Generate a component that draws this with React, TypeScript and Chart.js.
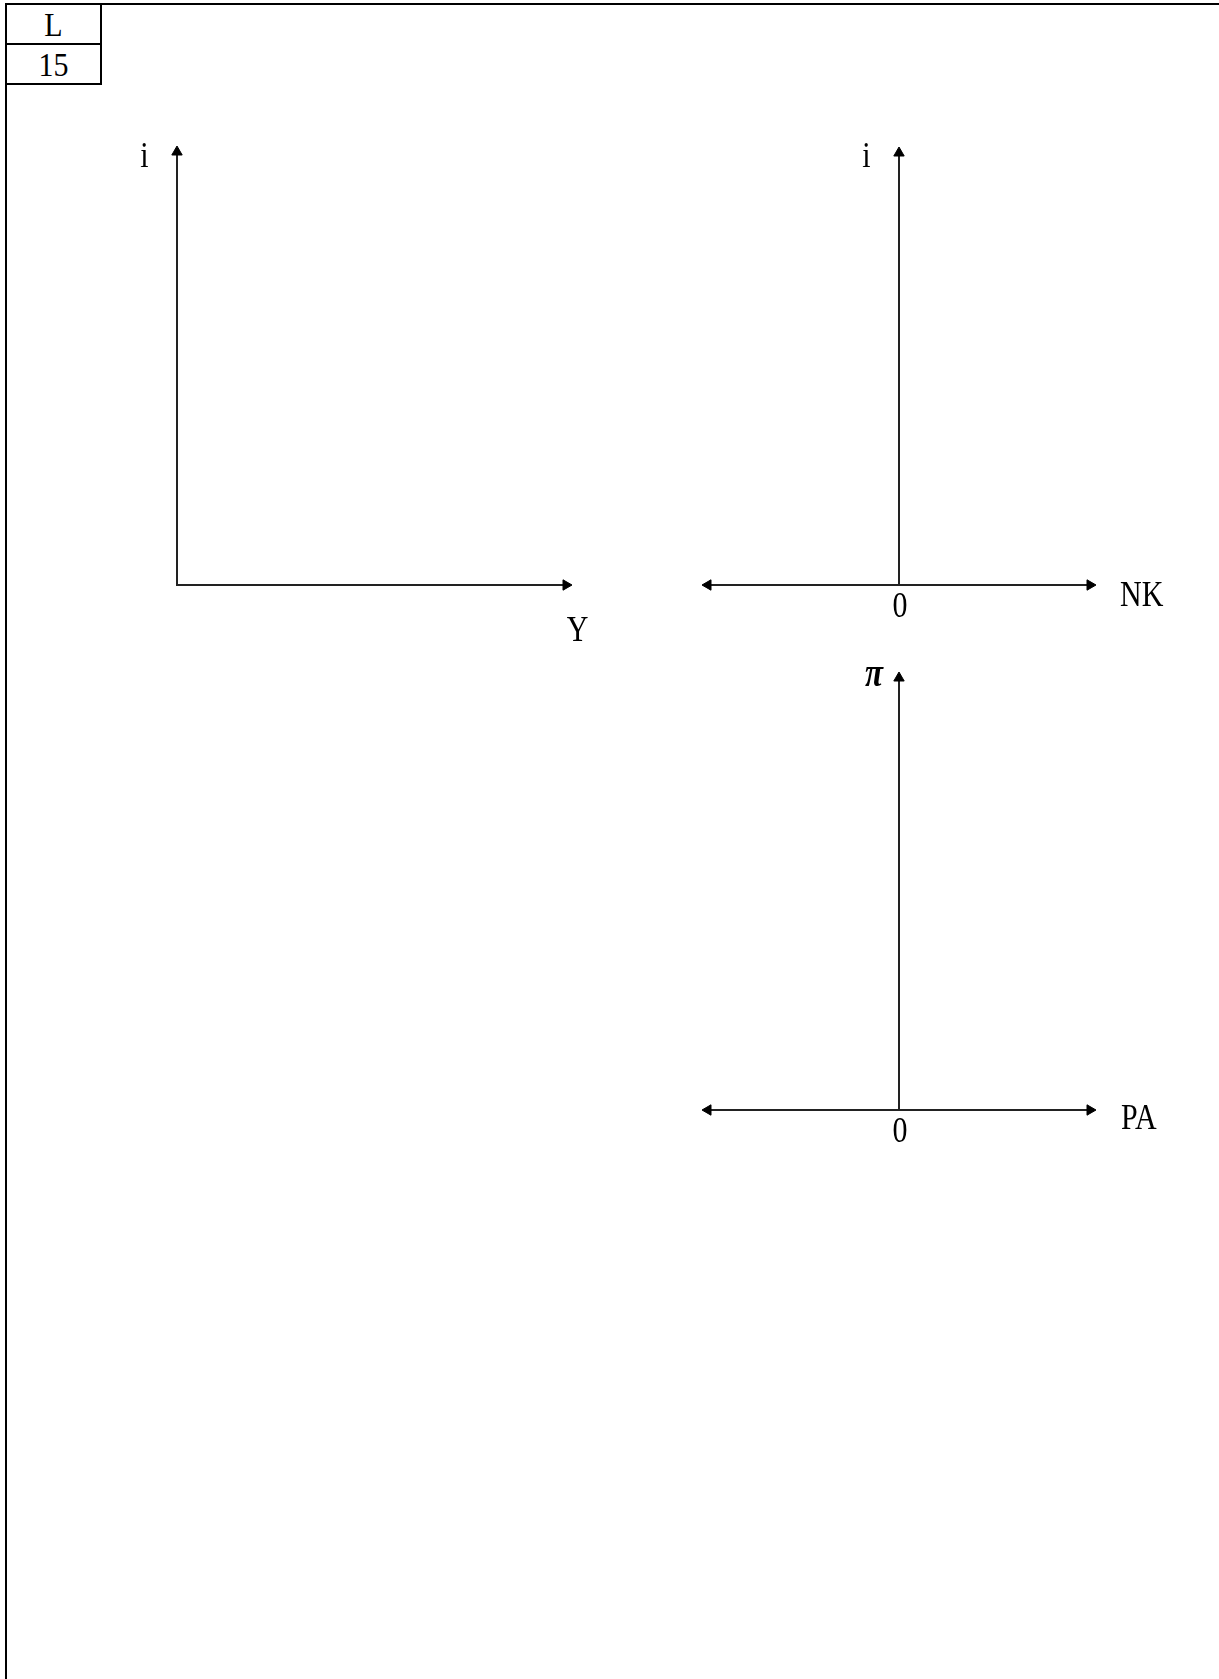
import React, { useEffect, useRef } from 'react';
import { Chart, registerables } from 'chart.js';

Chart.register(...registerables);

// ---------- data ----------
const HEADER_CELLS = ['L', '15'];
const X_TITLES = ['Y', 'NK', 'PA'];
const Y_TITLES = ['i', 'i', 'π'];
const X_MIN = [0, -10, -10];
const X_MAX = [10, 10, 10];
const Y_MIN = [0, 0, 0];
const Y_MAX = [10, 10, 10];
const ORIGIN_TICKS = ['', '0', '0'];

// ---------- layout (pixels) ----------
const PAGE_W = 1219;
const PAGE_H = 1679;
const AREAS = [
  { left: 177, right: 566, top: 152, bottom: 585 },
  { left: 708, right: 1090, top: 153, bottom: 585 },
  { left: 708, right: 1090, top: 678, bottom: 1110 },
];
// label offsets relative to axis ends / origin
const Y_TITLE_OFF = [
  [-32.5, 15],
  [-32.5, 14],
  [-25, 8],
];
const X_TITLE_OFF = [
  [11.5, 56, 'center'],
  [30, 21, 'left'],
  [31, 19, 'left'],
];
const ZERO_OFF = [1, 31.5];
const SERIF = '"Liberation Serif", "Times New Roman", "DejaVu Serif", serif';
const STRETCH = 1.22;
const AXIS_COLOR = '#222';

function drawText(
  ctx: CanvasRenderingContext2D,
  text: string,
  x: number,
  y: number,
  align: CanvasTextAlign,
  font: string,
  sy: number
) {
  ctx.save();
  ctx.font = font;
  ctx.fillStyle = '#000';
  ctx.textAlign = align;
  ctx.textBaseline = 'alphabetic';
  ctx.translate(x, y);
  ctx.scale(1, sy);
  ctx.fillText(text, 0, 0);
  ctx.restore();
}

function labelPlugin(i: number) {
  return {
    id: 'axisLabels' + i,
    afterDatasetsDraw(chart: any) {
      const ctx = chart.ctx as CanvasRenderingContext2D;
      const xs = chart.scales.x;
      const ys = chart.scales.y;
      const x0 = xs.getPixelForValue(0);
      const y0 = ys.getPixelForValue(0);
      const xEnd = xs.getPixelForValue(X_MAX[i]);
      const yEnd = ys.getPixelForValue(Y_MAX[i]);
      const normal = `30px ${SERIF}`;
      const isPi = Y_TITLES[i] === 'π';
      const yFont = isPi ? `italic bold 33px ${SERIF}` : normal;
      drawText(ctx, Y_TITLES[i], x0 + Y_TITLE_OFF[i][0], yEnd + Y_TITLE_OFF[i][1], 'center', yFont, isPi ? 1.2 : STRETCH);
      const xo = X_TITLE_OFF[i];
      drawText(ctx, X_TITLES[i], xEnd + (xo[0] as number), y0 + (xo[1] as number), xo[2] as CanvasTextAlign, normal, STRETCH);
      if (ORIGIN_TICKS[i]) {
        drawText(ctx, ORIGIN_TICKS[i], x0 + ZERO_OFF[0], y0 + ZERO_OFF[1], 'center', normal, STRETCH);
      }
    },
  };
}

function makeConfig(i: number): any {
  const a = AREAS[i];
  const twoSided = X_MIN[i] < 0;
  const common = {
    borderColor: AXIS_COLOR,
    borderWidth: 2,
    borderCapStyle: 'square',
    pointStyle: 'triangle',
    pointBackgroundColor: '#000',
    pointBorderColor: '#000',
    pointBorderWidth: 1,
    clip: false,
    tension: 0,
    fill: false,
  };
  return {
    type: 'line',
    data: {
      datasets: [
        {
          ...common,
          data: [
            { x: X_MIN[i], y: 0 },
            { x: X_MAX[i], y: 0 },
          ],
          pointRadius: [twoSided ? 6 : 0, 6],
          pointRotation: [270, 90],
        },
        {
          ...common,
          data: [
            { x: 0, y: Y_MIN[i] },
            { x: 0, y: Y_MAX[i] },
          ],
          pointRadius: [0, 6],
          pointRotation: [0, 0],
        },
      ],
    },
    options: {
      animation: false,
      responsive: false,
      maintainAspectRatio: false,
      devicePixelRatio: 1,
      events: [],
      layout: {
        padding: {
          left: a.left,
          right: PAGE_W - a.right,
          top: a.top,
          bottom: PAGE_H - a.bottom,
        },
      },
      scales: {
        x: { type: 'linear', min: X_MIN[i], max: X_MAX[i], display: false },
        y: { type: 'linear', min: Y_MIN[i], max: Y_MAX[i], display: false },
      },
      plugins: {
        legend: { display: false },
        tooltip: { enabled: false },
        title: { display: false },
      },
    },
    plugins: [labelPlugin(i)],
  };
}

function Panel({ index }: { index: number }) {
  const ref = useRef<HTMLCanvasElement | null>(null);
  useEffect(() => {
    if (!ref.current) return;
    const chart = new Chart(ref.current, makeConfig(index));
    return () => chart.destroy();
  }, [index]);
  return (
    <canvas
      ref={ref}
      width={PAGE_W}
      height={PAGE_H}
      style={{ position: 'absolute', left: 0, top: 0, width: PAGE_W, height: PAGE_H, display: 'block' }}
    />
  );
}

const rule = (left: number, top: number, width: number, height: number): React.CSSProperties => ({
  position: 'absolute',
  left,
  top,
  width,
  height,
  background: '#000',
});

export default function App() {
  return (
    <div
      style={{
        position: 'absolute',
        left: 0,
        top: 0,
        width: PAGE_W,
        height: PAGE_H,
        background: '#fff',
        overflow: 'hidden',
      }}
    >
      {/* page frame */}
      <div style={rule(5, 3, PAGE_W - 5, 2)} />
      <div style={rule(5, 3, 2, PAGE_H - 3)} />
      {/* header box */}
      <div style={rule(100, 3, 2, 82)} />
      <div style={rule(5, 43, 97, 2)} />
      <div style={rule(5, 83, 97, 2)} />
      {HEADER_CELLS.map((t, k) => (
        <div
          key={t}
          style={{
            position: 'absolute',
            left: 7,
            width: 93,
            top: 11 + k * 40,
            height: 30,
            lineHeight: '30px',
            fontSize: 30,
            fontFamily: SERIF,
            textAlign: 'center',
            color: '#000',
            transform: 'scaleY(1.12)',
            transformOrigin: '50% 25px',
          }}
        >
          {t}
        </div>
      ))}
      {[0, 1, 2].map((i) => (
        <Panel key={i} index={i} />
      ))}
    </div>
  );
}
